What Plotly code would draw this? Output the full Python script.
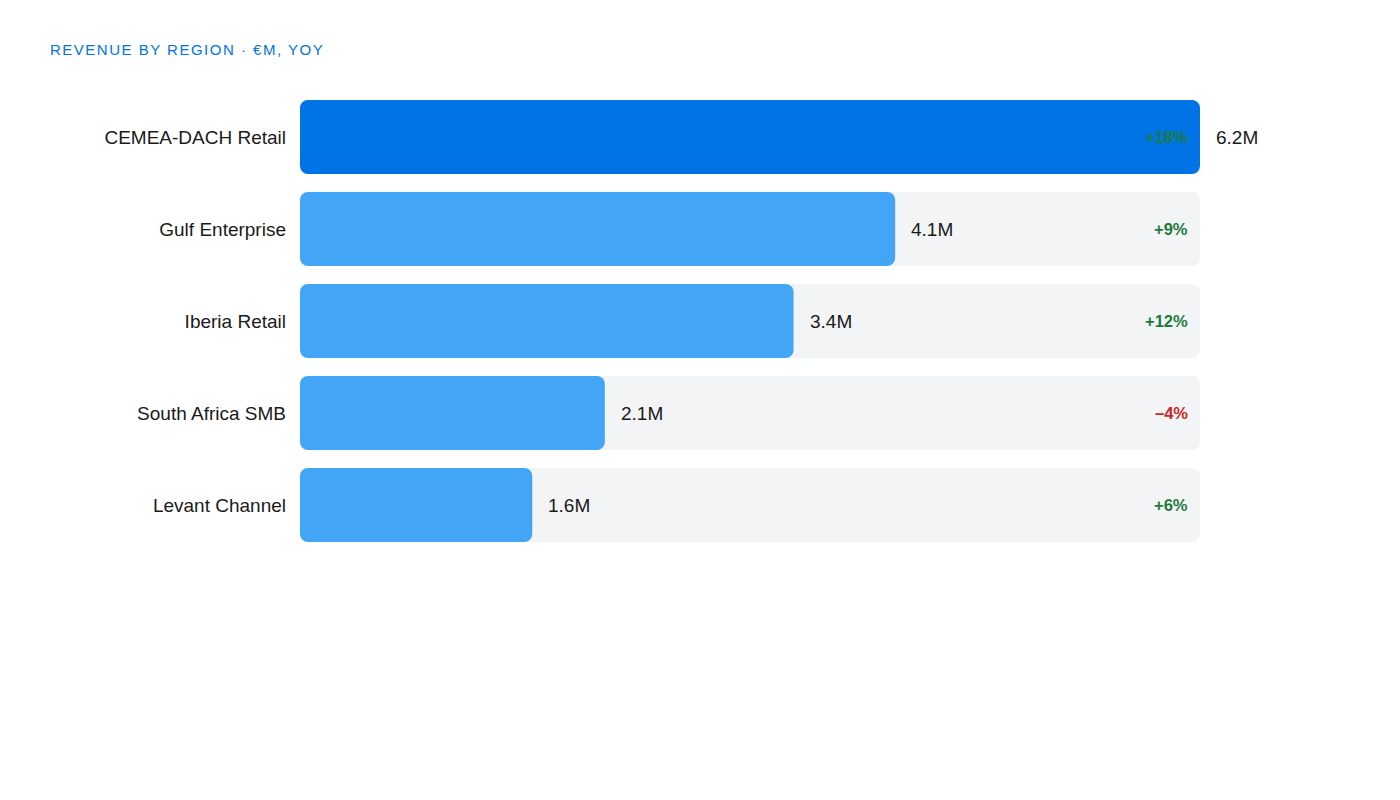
import plotly.graph_objects as go

regions = ["CEMEA-DACH Retail", "Gulf Enterprise", "Iberia Retail", "South Africa SMB", "Levant Channel"]
revenue = [6.2, 4.1, 3.4, 2.1, 1.6]
yoy = [18, 9, 12, -4, 6]
title_text = "REVENUE BY REGION · €M, YOY"

FONT = "Helvetica, Arial, 'Liberation Sans', sans-serif"
TOP_COLOR = "#0073e6"
BAR_COLOR = "#42a5f5"
TRACK = "#f3f4f6"
POS = "#1e7b3c"
NEG = "#c62828"
BAR_W = 0.805

vmax = max(revenue)
colors = [TOP_COLOR if v == vmax else BAR_COLOR for v in revenue]
zeros = [0] * len(regions)

fig = go.Figure()
fig.add_trace(go.Bar(
    y=regions, x=[vmax] * len(regions), base=zeros, orientation="h",
    marker=dict(color=TRACK, line=dict(width=0)), width=BAR_W,
    hoverinfo="skip", showlegend=False,
))
fig.add_trace(go.Bar(
    y=regions, x=revenue, base=zeros, orientation="h",
    marker=dict(color=colors, line=dict(width=0)), width=BAR_W,
    hovertemplate="%{y}: %{x}M<extra></extra>", showlegend=False,
))

for r, v, p in zip(regions, revenue, yoy):
    fig.add_annotation(
        x=v, y=r, xref="x", yref="y", text=f"{v:.1f}M",
        showarrow=False, xanchor="left", xshift=14,
        font=dict(family=FONT, size=19, color="#1a1a1a"),
    )
    sign = "+" if p >= 0 else "\u2013"
    fig.add_annotation(
        x=vmax, y=r, xref="x", yref="y", text=f"{sign}{abs(p)}%",
        showarrow=False, xanchor="right", xshift=-10,
        font=dict(family=FONT, size=16.5, color=POS if p >= 0 else NEG, weight=600),
    )

W, H = 1400, 800
L, R, T, B = 292, 208, 83, 257
pw, ph = W - L - R, H - T - B

fig.add_annotation(
    x=(40 - L) / pw, y=(H - B - 42) / ph, xref="paper", yref="paper",
    text=f'<span style="letter-spacing:1.5px">{title_text}</span>',
    showarrow=False, xanchor="left", yanchor="middle",
    font=dict(family=FONT, size=15, color=TOP_COLOR),
)

fig.update_layout(
    width=W, height=H,
    margin=dict(l=L, r=R, t=T, b=B, autoexpand=False),
    paper_bgcolor="white", plot_bgcolor="white",
    barmode="overlay", barcornerradius=8,
    xaxis=dict(range=[0, vmax], visible=False, fixedrange=True),
    yaxis=dict(
        categoryorder="array", categoryarray=regions, autorange="reversed",
        showgrid=False, zeroline=False, showline=False, ticks="",
        ticklabelstandoff=13,
        tickfont=dict(family=FONT, size=19, color="#1a1a1a"),
        fixedrange=True,
    ),
    font=dict(family=FONT),
)

fig.write_html("out.html")
